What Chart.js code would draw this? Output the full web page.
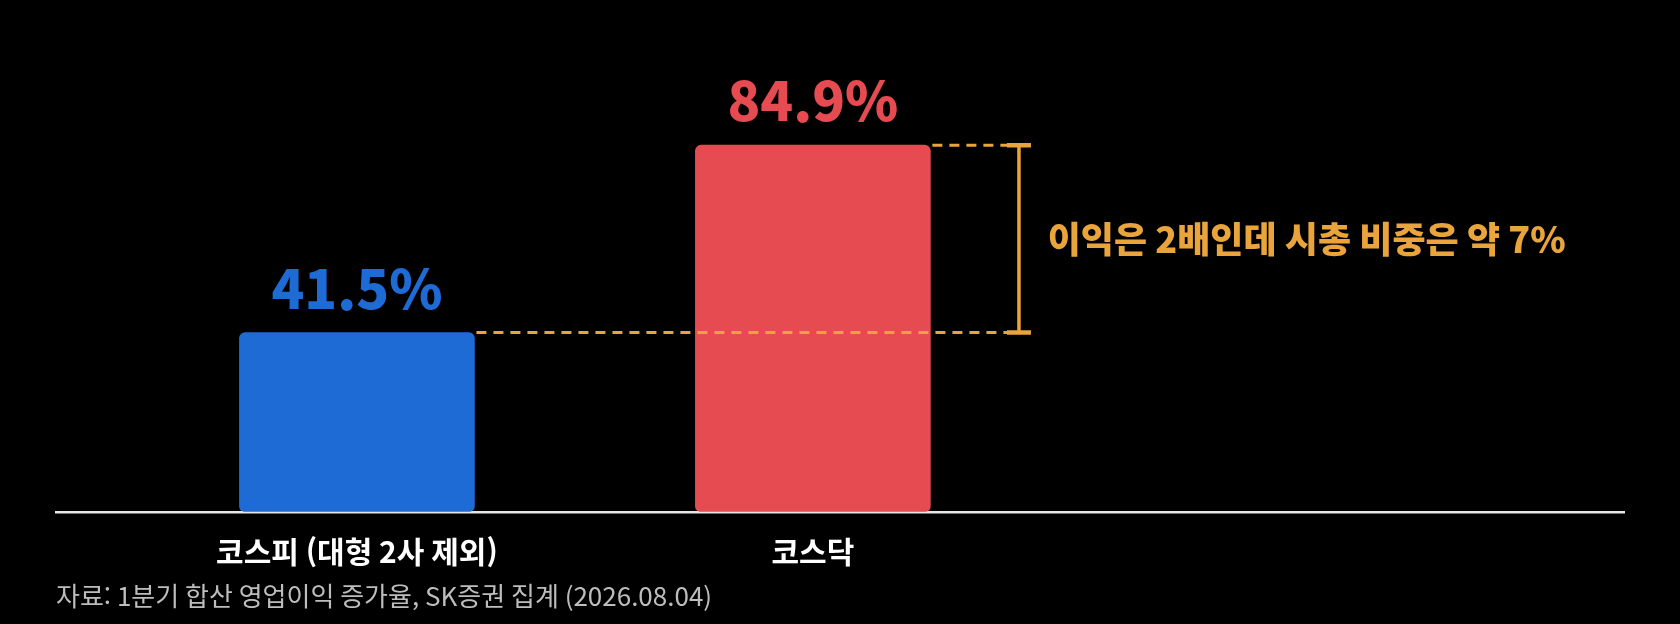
<!DOCTYPE html>
<html lang="ko">
<head>
<meta charset="utf-8">
<title>코스피 vs 코스닥 영업이익 증가율</title>
<script src="https://cdn.jsdelivr.net/npm/chart.js@4.4.1/dist/chart.umd.min.js"></script>
<style>
  html, body { margin: 0; padding: 0; background: #000; }
  #wrap { width: 1680px; height: 624px; position: relative; }
</style>
</head>
<body>
<div id="wrap"><canvas id="chart"></canvas></div>
<script>
// Chart data
const categories = ['코스피 (대형 2사 제외)', '코스닥'];
const growth = [41.5, 84.9];
const barColors = ['#1F6BD6', '#E54B50'];
const sourceNote = '자료: 1분기 합산 영업이익 증가율, SK증권 집계 (2026.08.04)';
const gapNote = '이익은 2배인데 시총 비중은 약 7%';

const FONT = "'Noto Sans CJK KR', 'Noto Sans', sans-serif";
const ORANGE = '#E9A43C';

// Value labels above each bar
const valueLabels = {
    id: 'valueLabels',
    afterDatasetsDraw(chart) {
        const ctx = chart.ctx;
        const bars = chart.getDatasetMeta(0).data;
        ctx.save();
        ctx.font = `800 54px ${FONT}`;
        ctx.textAlign = 'center';
        ctx.textBaseline = 'alphabetic';
        bars.forEach((bar, i) => {
            ctx.fillStyle = barColors[i];
            ctx.fillText(growth[i] + '%', bar.x, bar.y - 24);
        });
        ctx.restore();
    }
};

// Dashed guides + bracket + note between the two bar heights
const gapBracket = {
    id: 'gapBracket',
    afterDatasetsDraw(chart) {
        const ctx = chart.ctx;
        const x = chart.scales.x;
        const y = chart.scales.y;
        const bars = chart.getDatasetMeta(0).data;
        const bx = x.getPixelForValue(1.452);
        const yLow = y.getPixelForValue(growth[0]);
        const yHigh = y.getPixelForValue(growth[1]);

        ctx.save();
        ctx.strokeStyle = ORANGE;
        ctx.lineWidth = 3;
        ctx.setLineDash([10, 7]);
        ctx.beginPath();
        ctx.moveTo(bars[0].x + bars[0].width / 2 + 2, yLow);
        ctx.lineTo(bx, yLow);
        ctx.moveTo(bars[1].x + bars[1].width / 2 + 2, yHigh);
        ctx.lineTo(bx, yHigh);
        ctx.stroke();

        ctx.setLineDash([]);
        ctx.lineWidth = 3.5;
        ctx.beginPath();
        ctx.moveTo(bx, yHigh);
        ctx.lineTo(bx, yLow);
        ctx.stroke();
        ctx.lineWidth = 4.5;
        ctx.beginPath();
        ctx.moveTo(bx - 12, yHigh);
        ctx.lineTo(bx + 12, yHigh);
        ctx.moveTo(bx - 12, yLow);
        ctx.lineTo(bx + 12, yLow);
        ctx.stroke();

        ctx.fillStyle = ORANGE;
        ctx.font = `800 36px ${FONT}`;
        ctx.textAlign = 'left';
        ctx.textBaseline = 'middle';
        ctx.fillText(gapNote, x.getPixelForValue(1.515), (yLow + yHigh) / 2);
        ctx.restore();
    }
};

new Chart(document.getElementById('chart'), {
    type: 'bar',
    data: {
        datasets: [{
            data: growth.map((v, i) => ({ x: i, y: v })),
            backgroundColor: barColors,
            borderRadius: 6,
            borderSkipped: false,
            barThickness: 235
        }]
    },
    options: {
        responsive: true,
        maintainAspectRatio: false,
        animation: false,
        layout: { padding: { top: 80, left: 56, right: 56, bottom: 0 } },
        plugins: {
            legend: { display: false },
            tooltip: { enabled: false },
            title: {
                display: true,
                position: 'bottom',
                align: 'start',
                text: sourceNote,
                color: '#BDBDBD',
                font: { family: FONT, size: 26, weight: 'normal' },
                padding: { top: 0, bottom: 12 }
            }
        },
        scales: {
            x: {
                type: 'linear',
                offset: false,
                min: -0.66,
                max: 2.779,
                grid: { display: false, drawTicks: false },
                border: { display: true, color: '#E6E6E6', width: 2.5 },
                afterBuildTicks: (axis) => {
                    axis.ticks = categories.map((c, i) => ({ value: i }));
                },
                afterFit: (axis) => { axis.height = 69; },
                ticks: {
                    autoSkip: false,
                    maxRotation: 0,
                    padding: 22,
                    color: '#FFFFFF',
                    font: { family: FONT, size: 30, weight: 'bold' },
                    callback: (v) => categories[v] ?? ''
                }
            },
            y: {
                display: false,
                min: 0,
                max: 100
            }
        }
    },
    plugins: [valueLabels, gapBracket]
});
</script>
</body>
</html>
